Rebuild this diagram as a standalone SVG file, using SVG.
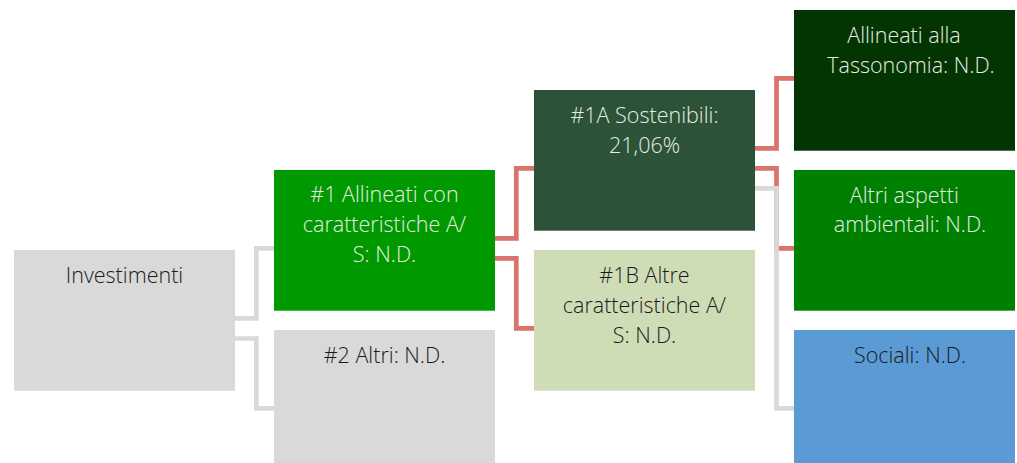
<svg xmlns="http://www.w3.org/2000/svg" width="1017" height="463" viewBox="0 0 1017 463">
<style>
.lbl{font-family:"Open Sans","Noto Sans","DejaVu Sans",sans-serif;font-size:21.5px;font-weight:300;text-anchor:middle}
.lt{fill:#E6EEE6}
.dk{fill:#1A1A1A}
.cg{fill:none;stroke:#D9D9D9;stroke-width:4.7}
.cr{fill:none;stroke:#D9736B;stroke-width:4.7}
</style>
<rect width="1017" height="463" fill="#FFFFFF"/>
<g id="connectors">
<path class="cg" d="M235,318.3H256.3V248.3H274"/>
<path class="cg" d="M235,338.5H256.3V408.3H274"/>
<path class="cr" d="M495,238.3H516.3V168.3H534"/>
<path class="cr" d="M495,258.3H516.3V328.3H534"/>
<path class="cr" d="M755,148.3H776.5V78.3H794"/>
<path class="cr" d="M755,168.3H776.5V248.3H794"/>
<path class="cg" d="M755,188.3H776.5V408.3H794"/>
</g>
<g id="investimenti">
<rect x="14" y="250" width="221" height="140.7" fill="#D9D9D9"/>
<text class="lbl dk" x="124.5" y="283">Investimenti</text>
</g>
<g id="n1">
<rect x="274" y="170" width="221" height="140.7" fill="#009900"/>
<text class="lbl lt" x="384.5" y="202">#1 Allineati con</text>
<text class="lbl lt" x="384.5" y="232">caratteristiche A/</text>
<text class="lbl lt" x="384.5" y="262">S: N.D.</text>
</g>
<g id="n2">
<rect x="274" y="330" width="221" height="133" fill="#D9D9D9"/>
<text class="lbl dk" x="384.5" y="363">#2 Altri: N.D.</text>
</g>
<g id="n1a">
<rect x="534" y="90" width="221" height="140.7" fill="#2C5337"/>
<text class="lbl lt" x="644.5" y="123">#1A Sostenibili:</text>
<text class="lbl lt" x="644.5" y="153">21,06%</text>
</g>
<g id="n1b">
<rect x="534" y="250" width="221" height="140.7" fill="#CFDDB7"/>
<text class="lbl dk" x="644.5" y="283">#1B Altre</text>
<text class="lbl dk" x="644.5" y="313">caratteristiche A/</text>
<text class="lbl dk" x="644.5" y="343">S: N.D.</text>
</g>
<g id="tassonomia">
<rect x="794" y="10" width="221" height="140.7" fill="#023502"/>
<text class="lbl lt" x="904" y="43">Allineati alla</text>
<text class="lbl lt" x="911" y="73">Tassonomia: N.D.</text>
</g>
<g id="ambientali">
<rect x="794" y="170" width="221" height="140.7" fill="#008000"/>
<text class="lbl lt" x="904.3" y="203">Altri aspetti</text>
<text class="lbl lt" x="910" y="232">ambientali: N.D.</text>
</g>
<g id="sociali">
<rect x="794" y="330" width="221" height="133" fill="#5B9BD5"/>
<text class="lbl dk" x="910" y="363">Sociali: N.D.</text>
</g>
</svg>
